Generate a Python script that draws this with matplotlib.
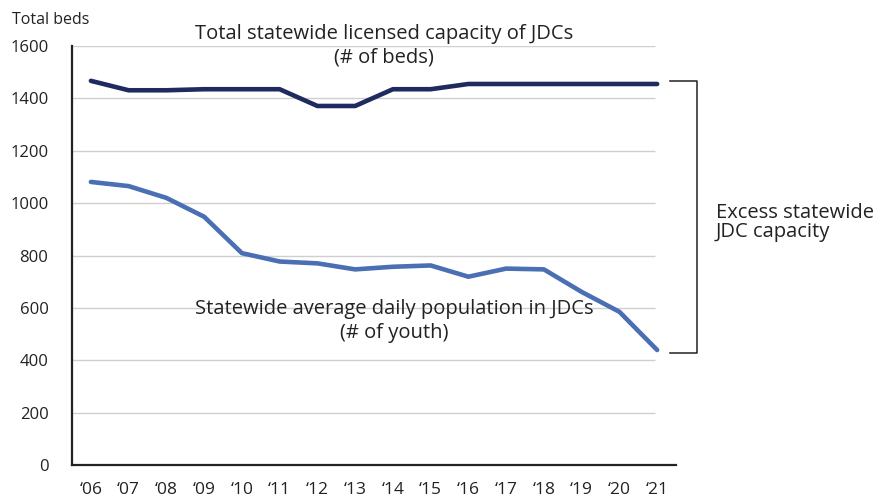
import matplotlib
matplotlib.use("Agg")
import matplotlib.pyplot as plt

years = ["\u201806", "\u201807", "\u201808", "\u201809", "\u201810", "\u201811", "\u201812", "\u201813",
         "\u201814", "\u201815", "\u201816", "\u201817", "\u201818", "\u201819", "\u201820", "\u201821"]
capacity = [1467, 1431, 1431, 1435, 1435, 1435, 1371, 1371, 1435, 1435, 1455, 1455, 1455, 1455, 1455, 1455]
population = [1081, 1065, 1020, 948, 809, 777, 770, 747, 757, 762, 719, 750, 747, 661, 585, 439]
yticks = [0, 200, 400, 600, 800, 1000, 1200, 1400, 1600]

plt.rcParams["font.family"] = ["Open Sans", "DejaVu Sans"]

fig = plt.figure(figsize=(8.75, 5.04), dpi=100)
ax = fig.add_axes([0.0823, 0.0774, 0.6903, 0.8313])

x = list(range(len(years)))
ax.set_xlim(-0.5, 15.5)
ax.set_ylim(0, 1600)

# gridlines stop just short of the last point
ax.hlines(yticks[1:], -0.5, 14.95, color="#cfcfcf", lw=1.0, zorder=1)

ax.plot(x, capacity, color="#1f2a5e", lw=3.3, solid_capstyle="round", zorder=3)
ax.plot(x, population, color="#4a6fb3", lw=3.3, solid_capstyle="round", zorder=3)

for s in ["top", "right"]:
    ax.spines[s].set_visible(False)
for s in ["left", "bottom"]:
    ax.spines[s].set_color("#222222")
    ax.spines[s].set_linewidth(1.6)

ax.set_xticks(x)
ax.set_xticklabels(years)
ax.set_yticks(yticks)
ax.tick_params(axis="x", length=0, pad=12, labelsize=12.5, colors="#222222")
ax.tick_params(axis="y", length=0, pad=17, labelsize=12, colors="#222222")

fig.text(0.014, 0.945, "Total beds", fontsize=11.5, ha="left", va="bottom", color="#222222")

ax.text(7.77, 1600, "Total statewide licensed capacity of JDCs\n(# of beds)",
        ha="center", va="center", fontsize=14.5, linespacing=1.22, color="#222222", zorder=4)
ax.text(8.03, 550, "Statewide average daily population in JDCs\n(# of youth)",
        ha="center", va="center", fontsize=14.5, linespacing=1.22, color="#222222", zorder=4)

# bracket marking the gap between capacity and population in '21
bx0, bx1 = 15.35, 16.06
ax.plot([bx0, bx1, bx1, bx0], [1468, 1468, 426, 426], color="#222222", lw=1.1, clip_on=False)
ax.text(16.55, 927, "Excess statewide\nJDC capacity", ha="left", va="center",
        fontsize=14.5, linespacing=0.95, color="#222222")

fig.savefig("out.png", dpi=100)
